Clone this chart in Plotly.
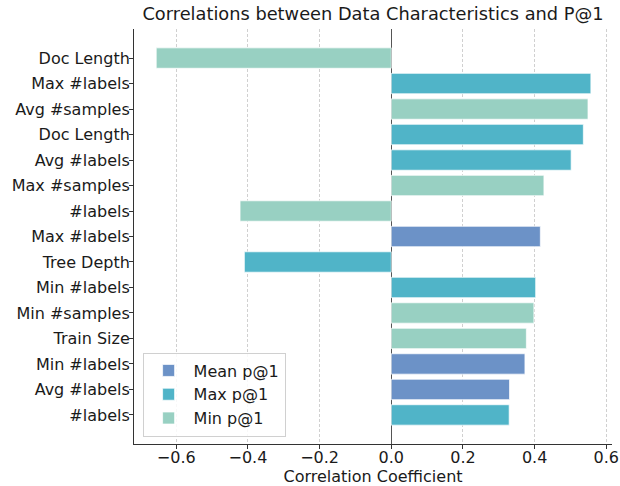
import plotly.graph_objects as go

# Data (top to bottom)
labels = ["Doc Length", "Max #labels", "Avg #samples", "Doc Length", "Avg #labels",
          "Max #samples", "#labels", "Max #labels", "Tree Depth", "Min #labels",
          "Min #samples", "Train Size", "Min #labels", "Avg #labels", "#labels"]
values = [-0.656, 0.557, 0.549, 0.536, 0.502,
          0.426, -0.422, 0.416, -0.410, 0.403,
          0.398, 0.377, 0.373, 0.330, 0.329]
series = ["Min p@1", "Max p@1", "Min p@1", "Max p@1", "Max p@1",
          "Min p@1", "Min p@1", "Mean p@1", "Max p@1", "Max p@1",
          "Min p@1", "Min p@1", "Mean p@1", "Mean p@1", "Max p@1"]
series_order = ["Mean p@1", "Max p@1", "Min p@1"]
colors = {"Mean p@1": "rgb(108,146,199)", "Max p@1": "rgb(80,180,200)", "Min p@1": "rgb(152,208,194)"}
x_ticks = [-0.6, -0.4, -0.2, 0.0, 0.2, 0.4, 0.6]

FONT = "DejaVu Sans"
positions = list(range(len(labels)))

fig = go.Figure()
for s in series_order:
    ys = [p for p, ss in zip(positions, series) if ss == s]
    xs = [v for v, ss in zip(values, series) if ss == s]
    fig.add_trace(go.Bar(
        x=xs, y=ys, orientation="h", name=s, width=0.8,
        marker=dict(color=colors[s], line=dict(color="rgba(255,255,255,0.7)", width=1)),
    ))

fig.update_layout(
    width=620, height=486,
    margin=dict(l=134, r=8, t=29, b=42, autoexpand=False),
    paper_bgcolor="white", plot_bgcolor="white",
    barmode="overlay",
    font=dict(family=FONT, size=16, color="#1a1a1a"),
    title=dict(text="Correlations between Data Characteristics and P@1",
               x=0.5, xref="paper", xanchor="center",
               y=1 - 13.5 / 486, yref="container", yanchor="middle",
               font=dict(family=FONT, size=17.8, color="#1a1a1a")),
    legend=dict(x=0.018, y=0.018, xanchor="left", yanchor="bottom",
                bgcolor="rgba(255,255,255,0.85)", bordercolor="#d0d0d0", borderwidth=1,
                font=dict(family=FONT, size=16), traceorder="normal",
                tracegroupgap=0, itemwidth=40),
    showlegend=True,
)
fig.update_xaxes(
    range=[-0.718, 0.616], tickvals=x_ticks, tickformat=".1f",
    showgrid=True, gridcolor="#d0d0d0", griddash="3px,2px", gridwidth=0.8,
    zeroline=True, zerolinecolor="#555555", zerolinewidth=1,
    showline=True, linecolor="#333333", linewidth=1,
    ticks="outside", ticklen=4, tickcolor="#333333",
    ticklabelstandoff=-5,
    title=dict(text="Correlation Coefficient", standoff=3, font=dict(size=16)),
    tickfont=dict(size=16),
)
fig.update_yaxes(
    range=[len(labels) - 1 + 1.14, -1.14], tickvals=positions, ticktext=labels,
    showgrid=False, zeroline=False,
    showline=True, linecolor="#333333", linewidth=1,
    ticks="outside", ticklen=4, tickcolor="#333333",
    ticklabelstandoff=-4,
    tickfont=dict(size=16),
)

fig.write_html("out.html",
               config={"displayModeBar": False},
               post_script="document.body.style.margin='0px';document.body.style.overflow='hidden';")
